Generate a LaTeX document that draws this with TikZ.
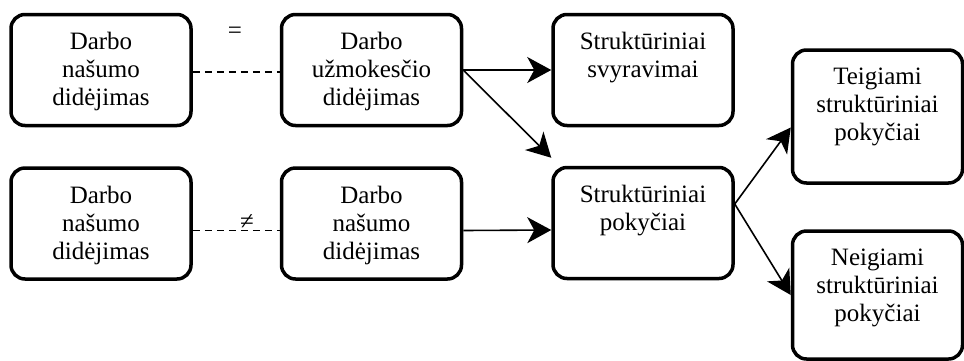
\documentclass[tikz,border=0pt]{standalone}
\usepackage{fontspec}
\setmainfont{Liberation Serif}
\newfontfamily\tnr{Liberation Serif}
\usetikzlibrary{arrows.meta}
\newcommand{\bt}[2]{\begin{minipage}[c][#1pt][t]{170pt}\centering\tnr\fontsize{25pt}{28pt}\selectfont\vspace*{18pt}#2\end{minipage}}
\tikzset{
  box/.style={draw, line width=3.5pt, rounded corners=14pt, inner sep=0pt, minimum width=180pt},
  arr/.style={line width=1.6pt, -{Stealth[length=24pt,width=26pt,inset=7pt]}},
  dsh/.style={line width=1.6pt, dash pattern=on 7pt off 5pt},
  sym/.style={font=\tnr\fontsize{25pt}{28pt}\selectfont, inner sep=0pt},
}
\begin{document}
\begin{tikzpicture}[x=1pt,y=-1pt]
\useasboundingbox (0,0) rectangle (964,360);
\clip (0,0) rectangle (964,360);
\node[box] (a1) at (101,70) {\bt{111}{Darbo\\našumo\\didėjimas}};
\node[box] (b1) at (371.5,70) {\bt{111}{Darbo\\užmokesčio\\didėjimas}};
\node[box] (c1) at (643,70) {\bt{111}{Struktūriniai\\svyravimai}};
\node[box] (a2) at (101,223.5) {\bt{111}{Darbo\\našumo\\didėjimas}};
\node[box] (b2) at (371.5,223.5) {\bt{111}{Darbo\\našumo\\didėjimas}};
\node[box] (c2) at (643,223) {\bt{111}{Struktūriniai\\pokyčiai}};
\node[box, minimum width=167pt] (d1) at (877.5,116.5) {\bt{133}{Teigiami\\struktūriniai\\pokyčiai}};
\node[box, minimum width=167pt] (d2) at (877.5,295) {\bt{128}{Neigiami\\struktūriniai\\pokyčiai}};
\draw[dsh] ([yshift=-2pt]a1.east) -- ([yshift=-2pt]b1.west);
\node[sym] (eq) at (235,33) {=};
\draw[dsh] ([yshift=-7pt]a2.east) -- ([yshift=-7pt]b2.west);
\node[sym] (ne) at (247,222) {≠};
\draw[arr] (b1.east) -- (c1.west);
\draw[arr] (b1.east) -- ([yshift=8pt]c2.north west);
\draw[arr] ([yshift=-7pt]b2.east) -- ([yshift=-7pt]c2.west);
\draw[arr] ([yshift=19pt]c2.east) -- ([yshift=-11pt]d1.west);
\draw[arr] ([yshift=19pt]c2.east) -- (d2.west);
\end{tikzpicture}
\end{document}
